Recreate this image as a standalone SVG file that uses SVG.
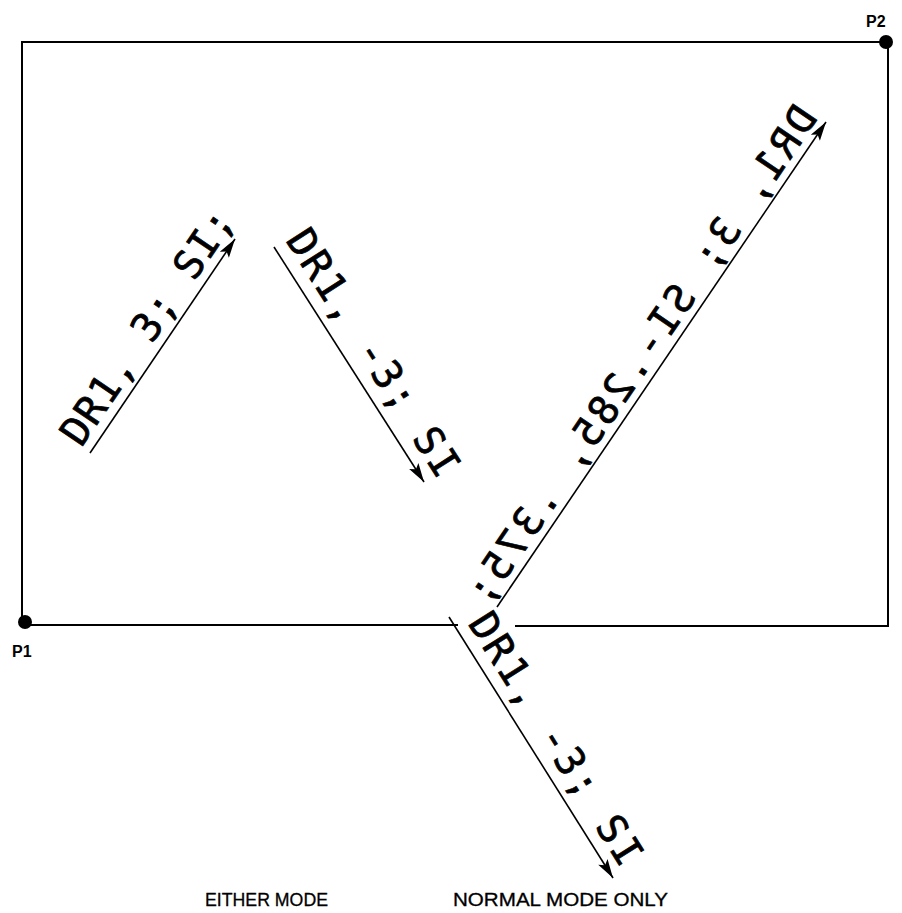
<svg xmlns="http://www.w3.org/2000/svg" width="902" height="913" viewBox="0 0 902 913">
<style>
.frame{stroke:#000;stroke-width:2;fill:none}
.arr{stroke:#000;stroke-width:1.6;fill:none;marker-end:url(#ah)}
.lbl{font-family:"DejaVu Sans Mono","Liberation Mono",monospace;font-size:40px;fill:#000;stroke:#000;stroke-width:0.7}
.cap{font-family:"Liberation Sans",Arial,sans-serif;font-size:18px;fill:#000;stroke:#000;stroke-width:0.3}
.pt{font-family:"Liberation Sans",Arial,sans-serif;font-size:16px;font-weight:bold;fill:#000}
</style>
<defs>
<marker id="ah" markerUnits="userSpaceOnUse" markerWidth="22" markerHeight="14" viewBox="-20 -7 22 14" refX="0" refY="0" orient="auto">
<path d="M0,0 L-19,-5.5 L-15,0 L-19,5.5 Z" fill="#000"/>
</marker>
</defs>
<rect width="902" height="913" fill="#fff"/>
<g id="frame">
<path class="frame" d="M22,622 L22,42 L886,42 L888,42 L888,626 L515,626"/>
<path class="frame" d="M25,625 L458,625"/>
</g>
<g id="p1">
<circle cx="25" cy="622" r="7" fill="#000"/>
<text class="pt" x="12" y="657">P1</text>
</g>
<g id="p2">
<circle cx="886" cy="42" r="7" fill="#000"/>
<text class="pt" x="866" y="27">P2</text>
</g>
<g id="connectors">
<line class="arr" x1="90" y1="453" x2="235" y2="239"/>
<line class="arr" x1="274" y1="247" x2="424" y2="482"/>
<line class="arr" x1="497" y1="607" x2="826" y2="122"/>
<line class="arr" x1="449" y1="617" x2="613" y2="878"/>
</g>
<g id="label1">
<text class="lbl" transform="translate(81.2,448.2) rotate(-55.8)" textLength="275" lengthAdjust="spacing">DR1, 3; SI;</text>
</g>
<g id="label2">
<text class="lbl" transform="translate(285,240) rotate(57.45)" textLength="285" lengthAdjust="spacing">DR1, -3; SI</text>
</g>
<g id="label3">
<text class="lbl" transform="translate(818.6,118.1) rotate(-55.85) scale(-1,1)" textLength="590" lengthAdjust="spacing">DR1, 3; SI-.285, .375;</text>
</g>
<g id="label4">
<text class="lbl" transform="translate(467.2,623.3) rotate(57.9)" textLength="290" lengthAdjust="spacing">DR1, -3; SI</text>
</g>
<g id="captions">
<text class="cap" x="205" y="906" textLength="123" lengthAdjust="spacingAndGlyphs">EITHER MODE</text>
<text class="cap" x="453" y="906" textLength="215" lengthAdjust="spacingAndGlyphs">NORMAL MODE ONLY</text>
</g>
</svg>
